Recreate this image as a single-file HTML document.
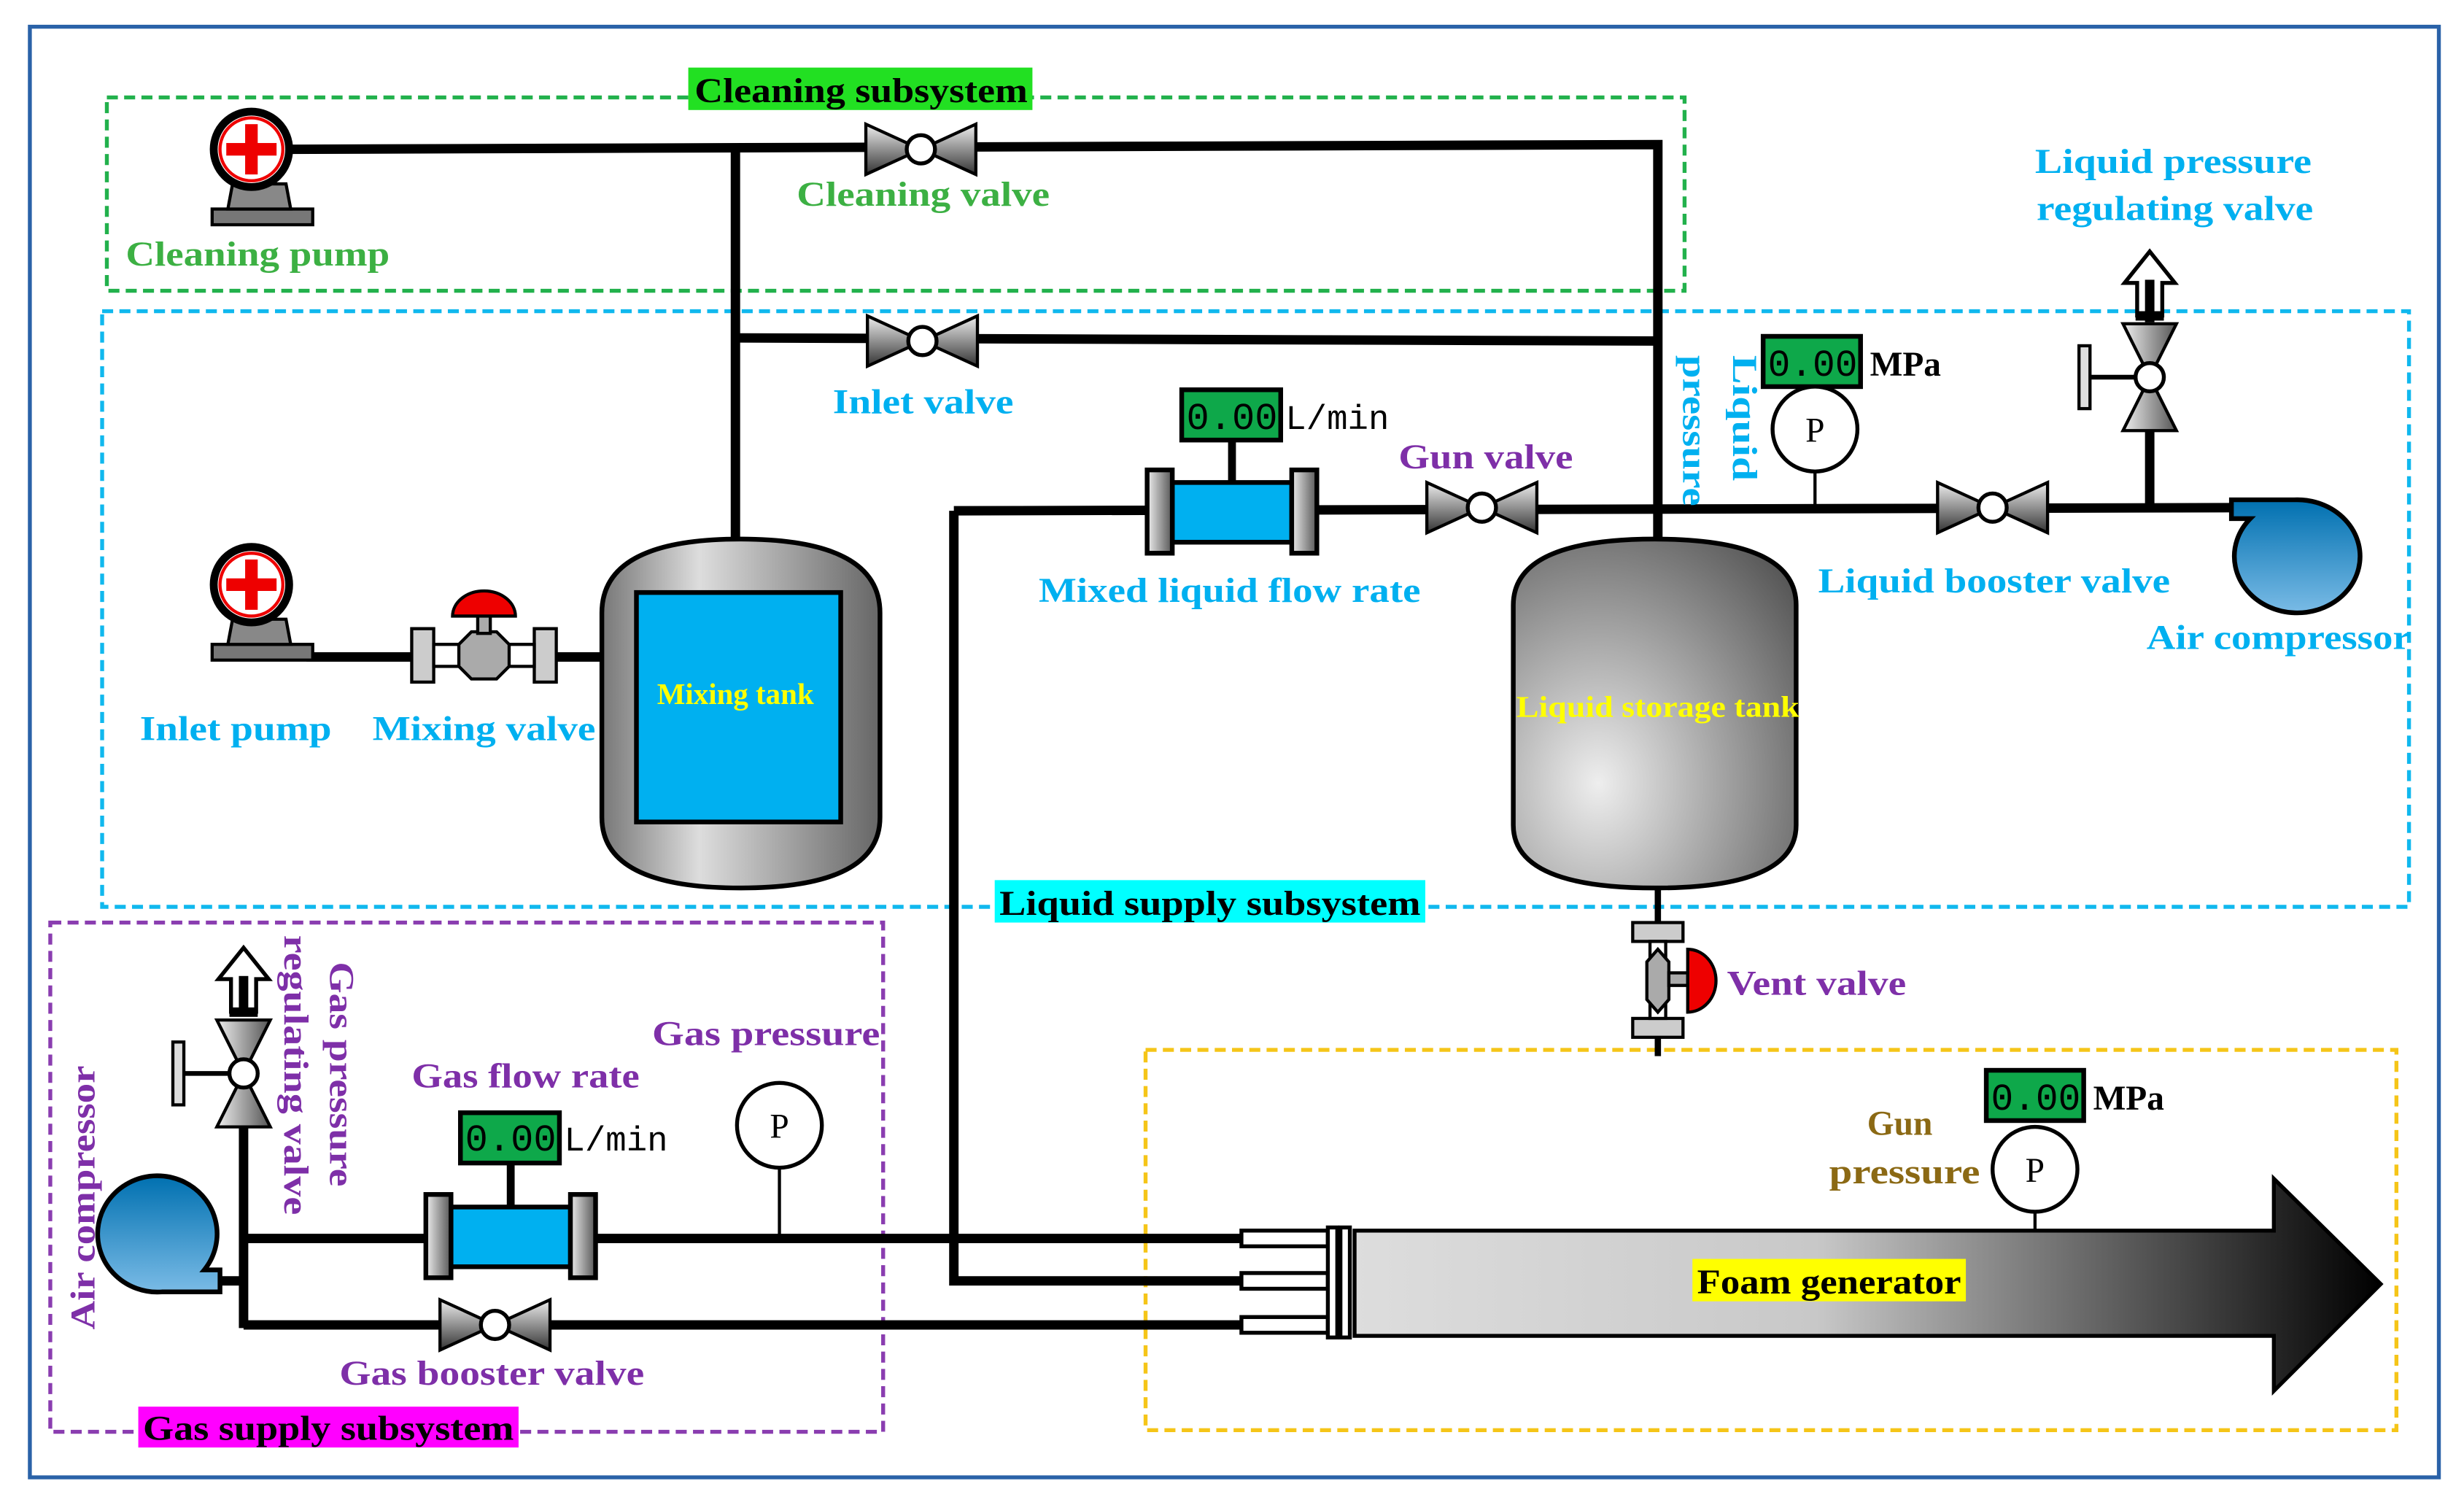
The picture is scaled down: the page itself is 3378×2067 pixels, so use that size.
<!DOCTYPE html>
<html><head><meta charset="utf-8"><style>html,body{margin:0;padding:0;background:#fff}svg{display:block}
svg text{font-family:"Liberation Serif","Times New Roman",serif;font-weight:bold}
svg .mono{font-family:"Liberation Mono","Courier New",monospace;font-weight:normal}
svg .nb{font-weight:normal}
</style></head>
<body>
<svg width="3378" height="2067" viewBox="0 0 1568 959.5" preserveAspectRatio="none" xmlns="http://www.w3.org/2000/svg">
<defs>
<linearGradient id="vg" x1="0" y1="0" x2="0" y2="1"><stop offset="0" stop-color="#eee"/><stop offset="1" stop-color="#333"/></linearGradient>
<linearGradient id="tank" x1="0" y1="0" x2="1" y2="0"><stop offset="0" stop-color="#777"/><stop offset="0.35" stop-color="#ddd"/><stop offset="1" stop-color="#666"/></linearGradient>
<radialGradient id="tank2" cx="0.3" cy="0.7" r="0.9"><stop offset="0" stop-color="#eee"/><stop offset="1" stop-color="#555"/></radialGradient>
<linearGradient id="comp" x1="0" y1="0" x2="0" y2="1"><stop offset="0" stop-color="#0070b0"/><stop offset="1" stop-color="#7abbe6"/></linearGradient>
<linearGradient id="foam" x1="0" y1="0" x2="1" y2="0"><stop offset="0" stop-color="#ddd"/><stop offset="0.45" stop-color="#c8c8c8"/><stop offset="1" stop-color="#000"/></linearGradient>
<linearGradient id="fl" x1="0" y1="0" x2="1" y2="0"><stop offset="0" stop-color="#eee"/><stop offset="1" stop-color="#555"/></linearGradient>
<g id="hv"><polygon points="-35,-16 -35,16 0,0" fill="url(#vg)" stroke="#000" stroke-width="2"/><polygon points="35,-16 35,16 0,0" fill="url(#vg)" stroke="#000" stroke-width="2"/><circle r="9" fill="#fff" stroke="#000" stroke-width="2.5"/></g>
<g id="vv"><polygon points="-17,-34 17,-34 0,0" fill="url(#fl)" stroke="#000" stroke-width="2"/><polygon points="-17,34 17,34 0,0" fill="url(#fl)" stroke="#000" stroke-width="2"/><line x1="0" y1="0" x2="-40" y2="0" stroke="#000" stroke-width="3"/><rect x="-45" y="-20" width="7" height="40" fill="#ddd" stroke="#000" stroke-width="2"/><circle r="9" fill="#fff" stroke="#000" stroke-width="2.5"/>
<polyline points="-8,-38 -8,-60 -16,-60 0,-80 16,-60 8,-60 8,-38" fill="#fff" stroke="#000" stroke-width="2.5"/><rect x="-3" y="-62" width="6" height="24" fill="#000"/><rect x="-9" y="-42" width="18" height="6" fill="#000"/></g>
<g id="pump"><rect x="-25" y="38" width="64" height="10" fill="#777" stroke="#000" stroke-width="2"/><polygon points="-15,38 -12,22 22,22 25,38" fill="#888" stroke="#000" stroke-width="2"/><circle r="24" fill="#fff" stroke="#000" stroke-width="5"/><rect x="-16" y="-4" width="32" height="8" fill="#e00"/><rect x="-4" y="-16" width="8" height="32" fill="#e00"/><circle r="20" fill="none" stroke="#e00" stroke-width="2"/></g>
</defs>
<rect width="1568" height="959.5" fill="#fff"/>
<rect x="19" y="17" width="1533" height="923" fill="none" stroke="#2a62a8" stroke-width="2.5"/>

<rect x="68" y="62" width="1004" height="123" fill="none" stroke="#22b14c" stroke-width="2.5" stroke-dasharray="7,4"/>
<rect x="65" y="198" width="1468" height="379" fill="none" stroke="#10b8ee" stroke-width="2.5" stroke-dasharray="7,4"/>
<rect x="32" y="587" width="530" height="324" fill="none" stroke="#8a3db0" stroke-width="2.5" stroke-dasharray="7,4"/>
<rect x="729" y="668" width="796" height="242" fill="none" stroke="#f5c518" stroke-width="2.5" stroke-dasharray="7,4"/>

<g stroke="#000" stroke-width="6" fill="none">
<polyline points="180,95 1055,92 1055,345"/>
<line x1="468" y1="95" x2="468" y2="345"/>
<line x1="468" y1="215" x2="1055" y2="217"/>
<line x1="195" y1="418" x2="385" y2="418"/>
<polyline points="607,325 607,815 790,815"/>
<line x1="607" y1="325" x2="1425" y2="323"/>
<line x1="1368" y1="323" x2="1368" y2="270"/>
<line x1="1368" y1="205" x2="1368" y2="175"/>
<line x1="155" y1="700" x2="155" y2="845"/>
<line x1="155" y1="788" x2="790" y2="788"/>
<line x1="155" y1="843" x2="790" y2="843"/>
<line x1="140" y1="815" x2="155" y2="815"/>
<line x1="1055" y1="560" x2="1055" y2="672" stroke-width="4"/>
</g>
<g stroke="#000" stroke-width="2"><line x1="496" y1="743" x2="496" y2="788"/><line x1="1155" y1="300" x2="1155" y2="325"/><line x1="1295" y1="771" x2="1295" y2="783"/></g>

<use href="#pump" x="160" y="95"/>
<use href="#pump" x="160" y="372"/>

<use href="#hv" x="586" y="95"/>
<use href="#hv" x="587" y="217"/>
<use href="#hv" x="943" y="323"/>
<use href="#hv" x="1268" y="323"/>
<use href="#hv" x="315" y="843"/>
<use href="#vv" x="1368" y="240"/>
<use href="#vv" x="155" y="683"/>

<g stroke="#000" stroke-width="2">
<rect x="262" y="400" width="14" height="34" fill="#ccc"/><rect x="340" y="400" width="14" height="34" fill="#ccc"/>
<rect x="276" y="410" width="64" height="14" fill="#fff"/>
<polygon points="292,410 300,402 316,402 324,410 324,424 316,432 300,432 292,424" fill="#aaa"/>
<rect x="304" y="385" width="8" height="18" fill="#aaa"/>
<path d="M288,392 A20,16 0 0 1 328,392 Z" fill="#e00"/>
</g>
<g stroke="#000" stroke-width="2">
<rect x="1039" y="587" width="32" height="12" fill="#ccc"/><rect x="1039" y="648" width="32" height="12" fill="#ccc"/>
<rect x="1050" y="599" width="10" height="49" fill="#fff"/>
<polygon points="1048,612 1055,604 1062,612 1062,636 1055,644 1048,636" fill="#aaa"/>
<rect x="1062" y="619" width="12" height="8" fill="#aaa"/>
<path d="M1074,604 A18,20 0 0 1 1074,644 Z" fill="#e00"/>
</g>

<path d="M383,390 Q383,343 471,343 Q560,343 560,390 L560,520 Q560,565 471,565 Q383,565 383,520 Z" fill="url(#tank)" stroke="#000" stroke-width="3"/>
<rect x="405" y="377" width="130" height="146" fill="#00b0f0" stroke="#000" stroke-width="3"/>
<text x="468" y="448" font-size="19" fill="#ff0" text-anchor="middle">Mixing  tank</text>
<path d="M963,385 Q963,343 1053,343 Q1143,343 1143,385 L1143,525 Q1143,565 1053,565 Q963,565 963,525 Z" fill="url(#tank2)" stroke="#000" stroke-width="3"/>
<text x="1055" y="456" font-size="19" fill="#ff0" text-anchor="middle" textLength="180" lengthAdjust="spacingAndGlyphs">Liquid  storage tank</text>

<g stroke="#000" stroke-width="3">
<rect x="746" y="307" width="76" height="38" fill="#00b0f0"/>
<rect x="730" y="299" width="16" height="53" fill="url(#fl)"/><rect x="822" y="299" width="16" height="53" fill="url(#fl)"/>
<line x1="784" y1="280" x2="784" y2="307" stroke-width="5"/>
<rect x="752" y="248" width="63" height="32" fill="#0ea84a"/>
<rect x="287" y="768" width="76" height="38" fill="#00b0f0"/>
<rect x="271" y="760" width="16" height="53" fill="url(#fl)"/><rect x="363" y="760" width="16" height="53" fill="url(#fl)"/>
<line x1="325" y1="740" x2="325" y2="768" stroke-width="5"/>
<rect x="293" y="708" width="63" height="32" fill="#0ea84a"/>
<rect x="1122" y="214" width="62" height="32" fill="#0ea84a"/>
<rect x="1264" y="681" width="62" height="32" fill="#0ea84a"/>
</g>
<g font-size="24" fill="#000">
<text class="mono" x="755" y="273" textLength="58" lengthAdjust="spacingAndGlyphs">0.00</text><text class="mono" x="818" y="273" font-size="22">L/min</text>
<text class="mono" x="296" y="732" textLength="58" lengthAdjust="spacingAndGlyphs">0.00</text><text class="mono" x="359" y="732" font-size="22">L/min</text>
<text class="mono" x="1125" y="239" textLength="57" lengthAdjust="spacingAndGlyphs">0.00</text><text class="mono" x="1267" y="706" textLength="57" lengthAdjust="spacingAndGlyphs">0.00</text>
</g>
<text x="1190" y="239" font-size="22">MPa</text>
<text x="1332" y="706" font-size="22">MPa</text>

<g fill="#fff" stroke="#000" stroke-width="2.5"><circle cx="1155" cy="273" r="27"/><circle cx="496" cy="716" r="27"/><circle cx="1295" cy="744" r="27"/></g>
<g font-size="22" text-anchor="middle"><text class="nb" x="1155" y="281">P</text><text class="nb" x="496" y="724">P</text><text class="nb" x="1295" y="752">P</text></g>

<path d="M1420,318 L1460,318 A40,36 0 1 1 1432,330 L1420,330 Z" fill="url(#comp)" stroke="#000" stroke-width="3"/>
<path d="M140,822 L103,822 A38,37 0 1 1 130,808 L140,808 Z" fill="url(#comp)" stroke="#000" stroke-width="3"/>

<g stroke="#000" stroke-width="2.5">
<rect x="790" y="783" width="55" height="10" fill="#fff"/><rect x="790" y="810" width="55" height="10" fill="#fff"/><rect x="790" y="838" width="55" height="10" fill="#fff"/>
<rect x="845" y="781" width="6" height="70" fill="#fff"/><rect x="853" y="781" width="6" height="70" fill="#fff"/>
<polygon points="862,783 1447,783 1447,750 1515,817 1447,885 1447,850 862,850" fill="url(#foam)"/>
</g>
<rect x="1077" y="801" width="174" height="27" fill="#ff0"/>
<text x="1164" y="823" font-size="22" text-anchor="middle" textLength="168" lengthAdjust="spacingAndGlyphs">Foam generator</text>

<rect x="438" y="43" width="219" height="27" fill="#22e022"/>
<text x="548" y="65" font-size="22" text-anchor="middle" textLength="212" lengthAdjust="spacingAndGlyphs">Cleaning subsystem</text>
<rect x="633" y="560" width="274" height="27" fill="#00ffff"/>
<text x="770" y="582" font-size="22" text-anchor="middle" textLength="268" lengthAdjust="spacingAndGlyphs">Liquid supply subsystem</text>
<rect x="88" y="895" width="242" height="26" fill="#ff00ff"/>
<text x="209" y="916" font-size="22" text-anchor="middle" textLength="236" lengthAdjust="spacingAndGlyphs">Gas supply subsystem</text>

<g font-size="22">
<g fill="#3cb043"><text x="80" y="169" textLength="168" lengthAdjust="spacingAndGlyphs">Cleaning pump</text><text x="507" y="131" textLength="161" lengthAdjust="spacingAndGlyphs">Cleaning valve</text></g>
<g fill="#00b0f0">
<text x="530" y="263" textLength="115" lengthAdjust="spacingAndGlyphs">Inlet valve</text>
<text x="89" y="471" textLength="122" lengthAdjust="spacingAndGlyphs">Inlet pump</text>
<text x="237" y="471" textLength="142" lengthAdjust="spacingAndGlyphs">Mixing valve</text>
<text x="661" y="383" textLength="243" lengthAdjust="spacingAndGlyphs">Mixed liquid flow rate</text>
<text x="1157" y="377" textLength="224" lengthAdjust="spacingAndGlyphs">Liquid booster valve</text>
<text x="1366" y="413" textLength="168" lengthAdjust="spacingAndGlyphs">Air compressor</text>
<text x="1383" y="110" text-anchor="middle" textLength="176" lengthAdjust="spacingAndGlyphs">Liquid pressure</text>
<text x="1384" y="140" text-anchor="middle" textLength="176" lengthAdjust="spacingAndGlyphs">regulating valve</text>
<text transform="translate(1103,226) rotate(90)" textLength="80" lengthAdjust="spacingAndGlyphs">Liquid</text>
<text transform="translate(1071,226) rotate(90)" textLength="96" lengthAdjust="spacingAndGlyphs">pressure</text>
</g>
<g fill="#7e2fa8">
<text x="890" y="298" textLength="111" lengthAdjust="spacingAndGlyphs">Gun valve</text>
<text x="1099" y="633" textLength="114" lengthAdjust="spacingAndGlyphs">Vent valve</text>
<text x="415" y="665" textLength="145" lengthAdjust="spacingAndGlyphs">Gas pressure</text>
<text x="262" y="692" textLength="145" lengthAdjust="spacingAndGlyphs">Gas flow rate</text>
<text x="216" y="881" textLength="194" lengthAdjust="spacingAndGlyphs">Gas booster valve</text>
<text transform="translate(210,612) rotate(90)" textLength="143" lengthAdjust="spacingAndGlyphs">Gas pressure</text>
<text transform="translate(181,595) rotate(90)" textLength="178" lengthAdjust="spacingAndGlyphs">regulating valve</text>
<text transform="translate(60,846) rotate(-90)" textLength="168" lengthAdjust="spacingAndGlyphs">Air compressor</text>
</g>
<g fill="#8b6914"><text x="1209" y="722" text-anchor="middle">Gun</text><text x="1212" y="753" text-anchor="middle" textLength="96" lengthAdjust="spacingAndGlyphs">pressure</text></g>
</g>
</svg>
</body></html>
